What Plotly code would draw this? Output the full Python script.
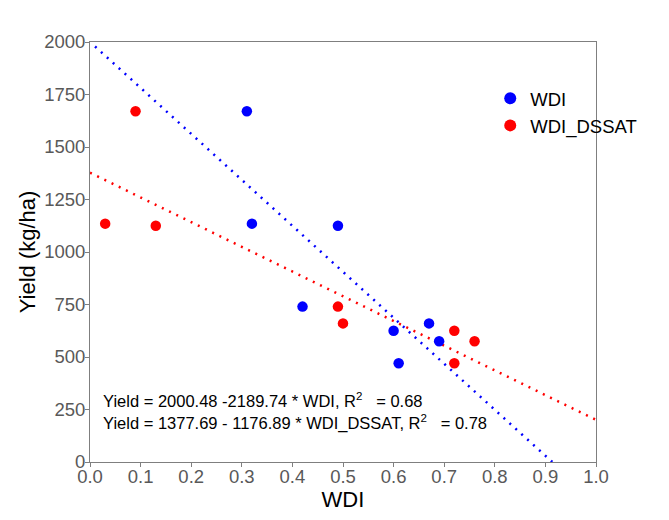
import plotly.graph_objects as go
import numpy as np

wdi_x = [0.31, 0.32, 0.42, 0.49, 0.60, 0.61, 0.67, 0.69]
wdi_y = [1670, 1135, 740, 1125, 625, 470, 660, 575]
dssat_x = [0.03, 0.09, 0.13, 0.49, 0.50, 0.72, 0.72, 0.76]
dssat_y = [1135, 1670, 1125, 740, 660, 625, 470, 575]

wdi_int, wdi_slope = 2000.48, -2189.74
dssat_int, dssat_slope = 1377.69, -1176.89

x_ticks = [0.0, 0.1, 0.2, 0.3, 0.4, 0.5, 0.6, 0.7, 0.8, 0.9, 1.0]
y_ticks = [0, 250, 500, 750, 1000, 1250, 1500, 1750, 2000]

blue = "#0000FF"
red = "#FF0000"

fig = go.Figure()

lx_b = np.linspace(0.01, -wdi_int / wdi_slope, 60)
fig.add_trace(go.Scatter(x=lx_b, y=wdi_int + wdi_slope * lx_b, mode="lines",
                         line=dict(color=blue, width=2.5, dash="2px,6px"),
                         showlegend=False, hoverinfo="skip"))
lx_r = np.linspace(0.0, 1.0, 60)
fig.add_trace(go.Scatter(x=lx_r, y=dssat_int + dssat_slope * lx_r, mode="lines",
                         line=dict(color=red, width=2.5, dash="2px,6px"),
                         showlegend=False, hoverinfo="skip"))

fig.add_trace(go.Scatter(x=wdi_x, y=wdi_y, mode="markers", name="WDI",
                         marker=dict(color=blue, size=10.5)))
fig.add_trace(go.Scatter(x=dssat_x, y=dssat_y, mode="markers", name="WDI_DSSAT",
                         marker=dict(color=red, size=10.5)))

fig.add_annotation(x=0.021, y=295, xref="x", yref="y", xanchor="left", yanchor="middle",
                   showarrow=False, align="left",
                   text="Yield = 2000.48 -2189.74 * WDI, R<sup>2</sup>   = 0.68",
                   font=dict(size=16.5, color="black"))
fig.add_annotation(x=0.021, y=190, xref="x", yref="y", xanchor="left", yanchor="middle",
                   showarrow=False, align="left",
                   text="Yield = 1377.69 - 1176.89 * WDI_DSSAT, R<sup>2</sup>   = 0.78",
                   font=dict(size=16.5, color="black"))

axis_common = dict(showgrid=False, zeroline=False, showline=True, linecolor="#7f7f7f",
                   linewidth=1, mirror=True, ticks="outside", tickcolor="#7f7f7f",
                   ticklen=4, tickfont=dict(size=18.5, color="#595959"), automargin=False)

fig.update_xaxes(range=[0, 1], tickvals=x_ticks, ticktext=[f"{v:.1f}" for v in x_ticks],
                 ticklabelstandoff=-6,
                 title=dict(text="WDI", font=dict(size=22, color="black"), standoff=0),
                 **axis_common)
fig.update_yaxes(range=[0, 2000], tickvals=y_ticks, ticklabelstandoff=-4,
                 title=dict(text="Yield (kg/ha)", font=dict(size=22, color="black"), standoff=2),
                 **axis_common)

# page body has an 8px margin, so the figure is drawn 8px in from the window corner
fig.update_layout(
    width=661, height=512,
    margin=dict(l=82, r=73, t=34, b=58, autoexpand=False),
    paper_bgcolor="white", plot_bgcolor="white",
    font=dict(family="Liberation Sans, Arial, sans-serif"),
    legend=dict(x=0.791, y=0.91, xanchor="left", yanchor="top",
                font=dict(size=18.5, color="black"), bgcolor="rgba(0,0,0,0)",
                itemsizing="constant", tracegroupgap=0),
)

fig.write_html("out.html")
